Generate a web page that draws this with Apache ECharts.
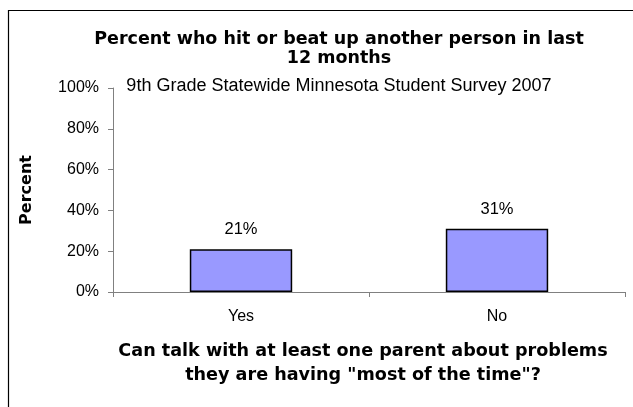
<!DOCTYPE html>
<html>
<head>
<meta charset="utf-8">
<script src="https://cdn.jsdelivr.net/npm/echarts@6/dist/echarts.min.js"></script>
<style>
html,body{margin:0;padding:0;background:#fff;}
#chart{width:633px;height:407px;}
</style>
</head>
<body>
<div id="chart"></div>
<script>
var categories = ['Yes', 'No'];
var values = [21, 31];
var yTicks = [0, 20, 40, 60, 80, 100];
var titleText = 'Percent who hit or beat up another person in last\n12 months';
var subtitleText = '9th Grade Statewide Minnesota Student Survey 2007';
var xAxisTitle = 'Can talk with at least one parent about problems\nthey are having "most of the time"?';
var yAxisTitle = 'Percent';

var chart = echarts.init(document.getElementById('chart'));
chart.setOption({
  backgroundColor: '#fff',
  animation: false,
  title: [
    {
      text: titleText,
      left: 339,
      textAlign: 'center',
      top: 30,
      padding: 0,
      textStyle: { fontFamily: 'DejaVu Sans', fontWeight: 'bold', fontSize: 17.5, lineHeight: 19, color: '#000' }
    },
    {
      text: subtitleText,
      left: 339,
      textAlign: 'center',
      top: 76,
      padding: 0,
      textStyle: { fontFamily: 'Liberation Sans', fontWeight: 'normal', fontSize: 18, lineHeight: 20, color: '#000' }
    }
  ],
  graphic: [
    {
      type: 'rect',
      shape: { x: 8.5, y: 10.5, width: 700, height: 500 },
      style: { fill: 'none', stroke: '#000', lineWidth: 1.2 },
      silent: true
    }
  ],
  grid: { left: 113, right: 8, top: 88, bottom: 115, containLabel: false },
  xAxis: {
    type: 'category',
    data: categories,
    name: xAxisTitle,
    nameLocation: 'middle',
    nameGap: 47,
    nameTextStyle: { fontFamily: 'DejaVu Sans', fontWeight: 'bold', fontSize: 17.6, lineHeight: 24, color: '#000', padding: [0, 12, 0, 0] },
    axisLine: { lineStyle: { color: '#808080', width: 1 } },
    axisTick: { show: true, length: 5, lineStyle: { color: '#808080' } },
    axisLabel: { fontFamily: 'Liberation Sans', fontSize: 16, color: '#000', margin: 17 },
    splitLine: { show: false }
  },
  yAxis: {
    type: 'value',
    min: yTicks[0],
    max: yTicks[yTicks.length - 1],
    interval: yTicks[1] - yTicks[0],
    name: yAxisTitle,
    nameLocation: 'middle',
    nameGap: 78,
    nameRotate: 90,
    nameTextStyle: { fontFamily: 'DejaVu Sans', fontWeight: 'bold', fontSize: 16, color: '#000' },
    axisLine: { show: true, lineStyle: { color: '#808080', width: 1 } },
    axisTick: { show: true, length: 5, lineStyle: { color: '#808080' } },
    axisLabel: { fontFamily: 'Liberation Sans', fontSize: 16, color: '#000', margin: 14, formatter: '{value}%' },
    splitLine: { show: false }
  },
  series: [
    {
      type: 'bar',
      data: values,
      barWidth: '40%',
      itemStyle: { color: '#9999FF', borderColor: '#000', borderWidth: 1.5 },
      label: {
        show: true,
        position: 'top',
        distance: 11,
        formatter: '{c}%',
        fontFamily: 'Liberation Sans',
        fontSize: 16.5,
        color: '#000'
      }
    }
  ]
});
</script>
</body>
</html>
